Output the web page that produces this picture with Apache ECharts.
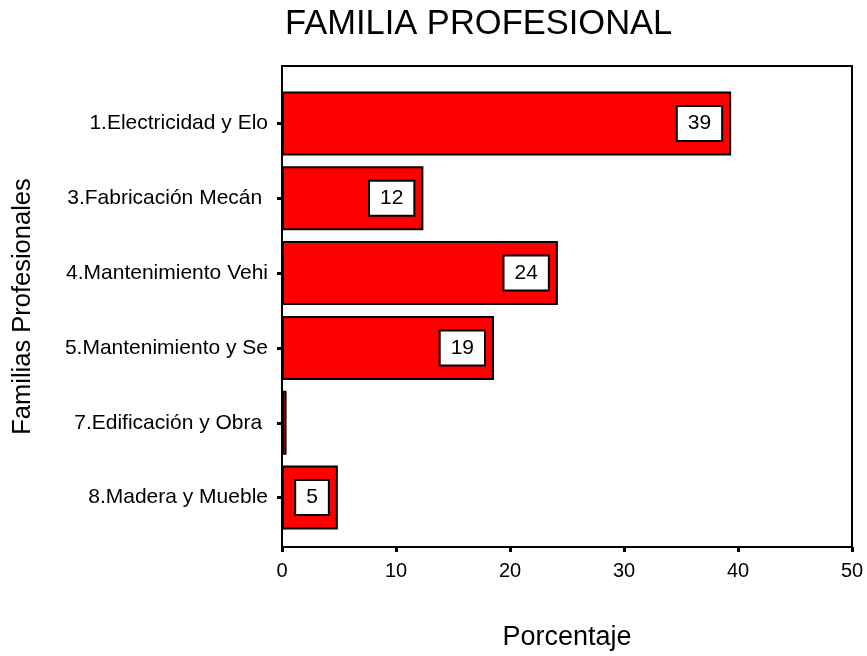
<!DOCTYPE html>
<html>
<head>
<meta charset="utf-8">
<script src="https://cdn.jsdelivr.net/npm/echarts@6/dist/echarts.min.js"></script>
<style>
  html, body { margin: 0; padding: 0; background: #fff; }
  #chart { width: 867px; height: 656px; }
</style>
</head>
<body>
<div id="chart"></div>
<script>
// familias profesionales y porcentajes
const categories = [
  '1.Electricidad y Elo',
  '3.Fabricación Mecán ',
  '4.Mantenimiento Vehi',
  '5.Mantenimiento y Se',
  '7.Edificación y Obra ',
  '8.Madera y Mueble'
];
const percentages = [39.4, 12.4, 24.2, 18.6, 0.4, 4.9];
const xTicks = [0, 10, 20, 30, 40, 50];

const chart = echarts.init(document.getElementById('chart'));
const font = 'Liberation Sans, Arial, sans-serif';

const option = {
  animation: false,
  backgroundColor: '#fff',
  textStyle: { fontFamily: font, color: '#000' },
  title: {
    text: 'FAMILIA PROFESIONAL',
    left: 280,
    top: 2,
    textStyle: { fontSize: 34.5, fontWeight: 'normal', color: '#000', fontFamily: font }
  },
  grid: [
    // marco + eje x
    { left: 282, right: 15, top: 66, bottom: 103, show: true, borderColor: '#000', borderWidth: 2, containLabel: false },
    // barras
    { left: 282, right: 15, top: 86, bottom: 121, containLabel: false }
  ],
  xAxis: [
    {
      gridIndex: 0,
      type: 'value',
      min: xTicks[0],
      max: xTicks[xTicks.length - 1],
      interval: 10,
      name: 'Porcentaje',
      nameLocation: 'middle',
      nameGap: 77,
      nameTextStyle: { fontSize: 27, color: '#000', fontFamily: font },
      axisLine: { show: true, lineStyle: { color: '#000', width: 2 } },
      axisTick: { show: true, length: 5, lineStyle: { color: '#000', width: 3 } },
      axisLabel: { fontSize: 20, color: '#000', margin: 14, fontFamily: font },
      splitLine: { show: false }
    },
    {
      gridIndex: 1,
      type: 'value',
      min: xTicks[0],
      max: xTicks[xTicks.length - 1],
      show: false
    }
  ],
  yAxis: [
    {
      gridIndex: 0,
      type: 'value',
      name: 'Familias Profesionales',
      nameLocation: 'middle',
      nameGap: 246,
      nameTextStyle: { fontSize: 25.5, color: '#000', fontFamily: font },
      axisLine: { show: false },
      axisTick: { show: false },
      axisLabel: { show: false },
      splitLine: { show: false }
    },
    {
      gridIndex: 1,
      type: 'category',
      data: categories,
      inverse: true,
      axisLine: { show: false },
      axisTick: { show: true, alignWithLabel: true, length: 5, lineStyle: { color: '#000', width: 3 } },
      axisLabel: { fontSize: 21, color: '#000', margin: 14, fontFamily: font },
      splitLine: { show: false }
    }
  ],
  series: [
    {
      type: 'bar',
      xAxisIndex: 1,
      yAxisIndex: 1,
      barWidth: 64,
      data: percentages.map(v => ({
        value: v,
        label: { show: Math.round(v) >= 1 }
      })),
      itemStyle: { color: '#ff0000', borderColor: '#000', borderWidth: 2 },
      label: {
        show: true,
        position: 'insideRight',
        distance: 10,
        formatter: p => String(Math.round(p.value)),
        fontSize: 21,
        color: '#000',
        fontFamily: font,
        backgroundColor: '#fff',
        borderColor: '#000',
        borderWidth: 2,
        padding: [6, 10]
      }
    }
  ]
};

chart.setOption(option);
</script>
</body>
</html>
